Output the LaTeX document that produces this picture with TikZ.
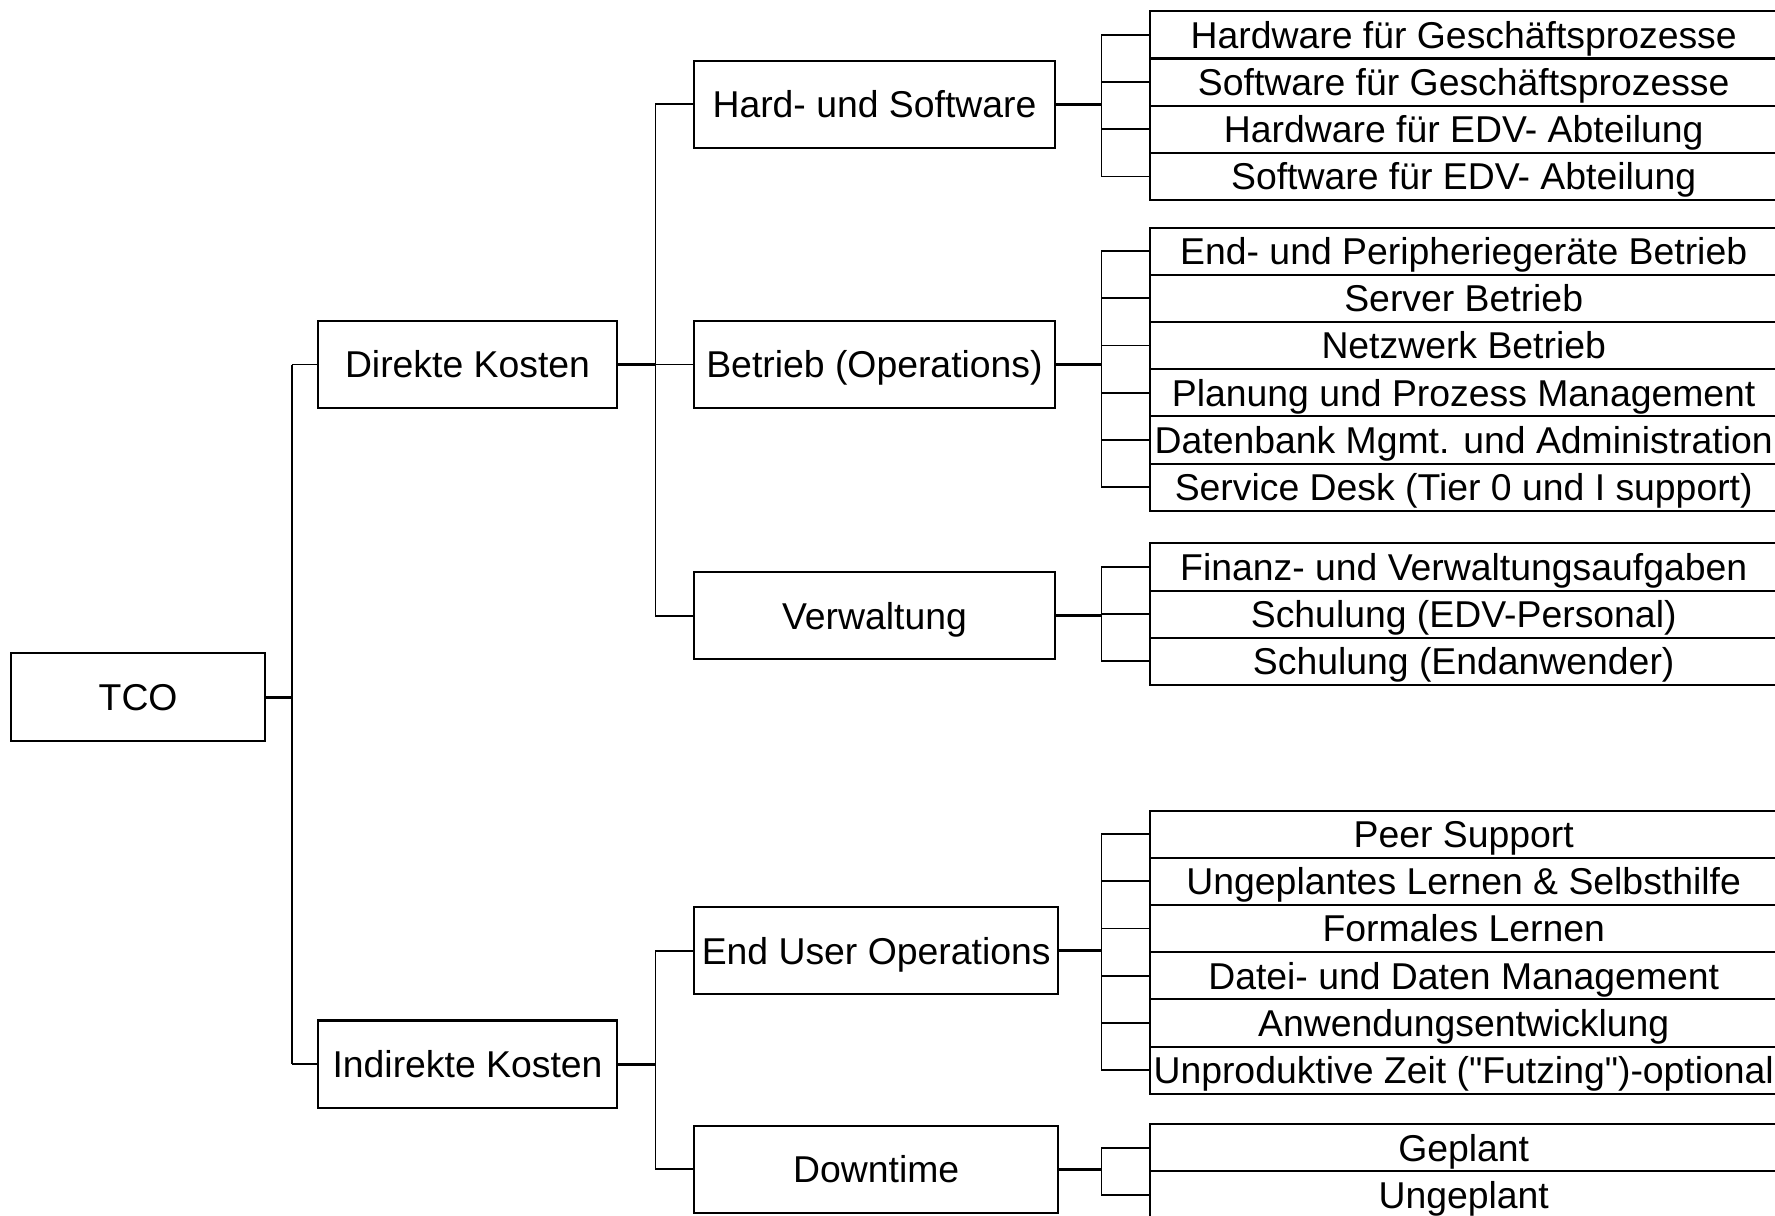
\documentclass[tikz,border=0pt]{standalone}
\usepackage{fontspec}
\setmainfont{Liberation Sans}[Ligatures=TeXOff]
\begin{document}
\begin{tikzpicture}[x=0.5pt,y=-0.5pt,
  box/.style={draw=black, line width=0.9pt, fill=white, inner sep=0pt,
    font=\fontsize{16.5}{20}\selectfont, text height=11.8pt, text depth=0pt,
    minimum height=38.5pt},
  midbox/.style={box, minimum width=159.5pt},
  % leaf rows run on past the right edge; the text stays centred on x=1293
  leaf/.style={box, minimum width=280pt, minimum height=20.85pt, xshift=1.5pt,
    execute at begin node=\hspace*{-3pt}},
  bus/.style={line width=0.6pt},
  feed/.style={line width=1.4pt},
  twig/.style={line width=0.8pt}]
\clip (0,0) rectangle (1568,1074);

% root and first level
\node[box, minimum width=112pt, minimum height=39pt] (tco) at (122,616) {TCO};
\node[box, minimum width=132pt] (dk) at (413,322) {Direkte Kosten};
\node[box, minimum width=132pt] (ik) at (413,940) {Indirekte Kosten};

% second level
\node[midbox] (hs) at (772.5,92) {Hard- und Software};
\node[midbox] (bo) at (772.5,322) {Betrieb (Operations)};
\node[midbox] (vw) at (772.5,544) {Verwaltung};
\node[midbox, minimum width=161pt] (eu) at (774,840) {End User Operations};
\node[midbox, minimum width=161pt] (dt) at (774,1033) {Downtime};

% leaves: Hard- und Software
\node[leaf] (hs1) at (1293,30.85)  {Hardware für Geschäftsprozesse};
\node[leaf] (hs2) at (1293,72.55)  {Software für Geschäftsprozesse};
\node[leaf] (hs3) at (1293,114.25) {Hardware für EDV- Abteilung};
\node[leaf] (hs4) at (1293,155.95) {Software für EDV- Abteilung};

% leaves: Betrieb
\node[leaf] (bo1) at (1293,221.85) {End- und Peripheriegeräte Betrieb};
\node[leaf] (bo2) at (1293,263.55) {Server Betrieb};
\node[leaf] (bo3) at (1293,305.25) {Netzwerk Betrieb};
\node[leaf] (bo4) at (1293,346.95) {Planung und Prozess Management};
\node[leaf] (bo5) at (1293,388.65) {Datenbank Mgmt. und Administration};
\node[leaf] (bo6) at (1293,430.35) {Service Desk (Tier 0 und I support)};

% leaves: Verwaltung
\node[leaf] (vw1) at (1293,500.85) {Finanz- und Verwaltungsaufgaben};
\node[leaf] (vw2) at (1293,542.55) {Schulung (EDV-Personal)};
\node[leaf] (vw3) at (1293,584.25) {Schulung (Endanwender)};

% leaves: End User Operations
\node[leaf] (eu1) at (1293,736.85) {Peer Support};
\node[leaf] (eu2) at (1293,778.55) {Ungeplantes Lernen \& Selbsthilfe};
\node[leaf] (eu3) at (1293,820.25) {Formales Lernen};
\node[leaf] (eu4) at (1293,861.95) {Datei- und Daten Management};
\node[leaf] (eu5) at (1293,903.65) {Anwendungsentwicklung};
\node[leaf] (eu6) at (1293,945.35) {Unproduktive Zeit ("Futzing")-optional};

% leaves: Downtime
\node[leaf] (dt1) at (1293,1013.85) {Geplant};
\node[leaf] (dt2) at (1293,1055.55) {Ungeplant};

% bus points
\coordinate (b0) at (258,616);
\coordinate (b1) at (579,322);
\coordinate (b2) at (579,940);
\coordinate (bhs) at (973,92);
\coordinate (bbo) at (973,322);
\coordinate (bvw) at (973,544);
\coordinate (beu) at (973,840);
\coordinate (bdt) at (973,1033);

% TCO -> cost types
\draw[feed] (tco.east) -- (b0);
\draw[bus] (b0 |- dk.west) -- (b0 |- ik.west);
\draw[twig] (b0 |- dk.west) -- (dk.west);
\draw[twig] (b0 |- ik.west) -- (ik.west);

% Direkte Kosten -> categories
\draw[feed] (dk.east) -- (b1);
\draw[bus] (b1 |- hs.west) -- (b1 |- vw.west);
\foreach \n in {hs,bo,vw} \draw[twig] (b1 |- \n.west) -- (\n.west);

% Indirekte Kosten -> categories
\draw[feed] (ik.east) -- (b2);
\draw[bus] (b2 |- eu.west) -- (b2 |- dt.west);
\foreach \n in {eu,dt} \draw[twig] (b2 |- \n.west) -- (\n.west);

% categories -> leaves
\draw[feed] (hs.east) -- (bhs);
\draw[bus] (bhs |- hs1.west) -- (bhs |- hs4.west);
\foreach \n in {hs1,hs2,hs3,hs4} \draw[twig] (bhs |- \n.west) -- (\n.west);

\draw[feed] (bo.east) -- (bbo);
\draw[bus] (bbo |- bo1.west) -- (bbo |- bo6.west);
\foreach \n in {bo1,bo2,bo3,bo4,bo5,bo6} \draw[twig] (bbo |- \n.west) -- (\n.west);

\draw[feed] (vw.east) -- (bvw);
\draw[bus] (bvw |- vw1.west) -- (bvw |- vw3.west);
\foreach \n in {vw1,vw2,vw3} \draw[twig] (bvw |- \n.west) -- (\n.west);

\draw[feed] (eu.east) -- (beu);
\draw[bus] (beu |- eu1.west) -- (beu |- eu6.west);
\foreach \n in {eu1,eu2,eu3,eu4,eu5,eu6} \draw[twig] (beu |- \n.west) -- (\n.west);

\draw[feed] (dt.east) -- (bdt);
\draw[bus] (bdt |- dt1.west) -- (bdt |- dt2.west);
\foreach \n in {dt1,dt2} \draw[twig] (bdt |- \n.west) -- (\n.west);
\end{tikzpicture}
\end{document}
